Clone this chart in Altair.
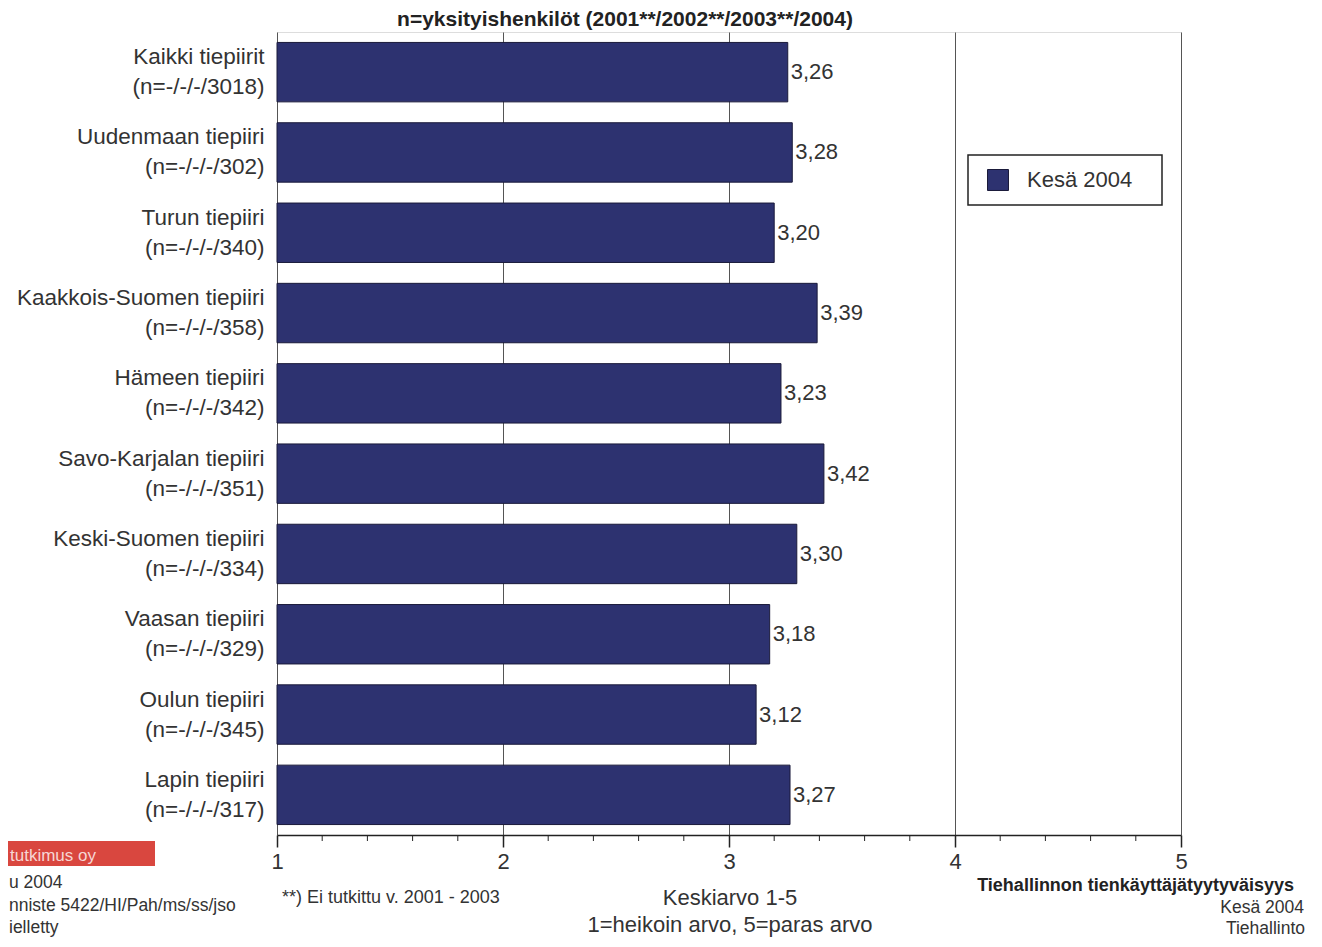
import altair as alt
import pandas as pd

# ---- data ----
regions = ["Kaikki tiepiirit", "Uudenmaan tiepiiri", "Turun tiepiiri",
           "Kaakkois-Suomen tiepiiri", "Hämeen tiepiiri", "Savo-Karjalan tiepiiri",
           "Keski-Suomen tiepiiri", "Vaasan tiepiiri", "Oulun tiepiiri", "Lapin tiepiiri"]
n_labels = ["(n=-/-/-/3018)", "(n=-/-/-/302)", "(n=-/-/-/340)", "(n=-/-/-/358)",
            "(n=-/-/-/342)", "(n=-/-/-/351)", "(n=-/-/-/334)", "(n=-/-/-/329)",
            "(n=-/-/-/345)", "(n=-/-/-/317)"]
values = [3.26, 3.28, 3.20, 3.39, 3.23, 3.42, 3.30, 3.18, 3.12, 3.27]
series_name = "Kesä 2004"
major_ticks = [1, 2, 3, 4, 5]
minor_ticks = [1.2, 1.4, 1.6, 1.8, 2.2, 2.4, 2.6, 2.8, 3.2, 3.4, 3.6, 3.8,
               4.2, 4.4, 4.6, 4.8]

title_text = "n=yksityishenkilöt (2001**/2002**/2003**/2004)"
footnote_text = "**) Ei tutkittu v. 2001 - 2003"
axis_title_1 = "Keskiarvo 1-5"
axis_title_2 = "1=heikoin arvo, 5=paras arvo"
right_texts = ["Kesä 2004", "Tiehallinto"]
right_bold = "Tiehallinnon tienkäyttäjätyytyväisyys"
logo_text = "tutkimus oy"
left_texts = ["u 2004", "nniste 5422/HI/Pah/ms/ss/jso", "ielletty"]

FONT = "Liberation Sans"
NAVY = "#2D3270"
TXT = "#333333"

df = pd.DataFrame({
    "label": [f"{r}|{n}" for r, n in zip(regions, n_labels)],
    "v": values,
    "series": [series_name] * len(values),
})
order = df["label"].tolist()
minor_df = pd.DataFrame({"m": minor_ticks})

base = alt.Chart(df)

xscale = alt.Scale(domain=[1, 5], nice=False, zero=False)

bars = base.mark_bar(stroke="#1a1a3a", strokeWidth=1).encode(
    x=alt.X("v:Q", scale=xscale,
            axis=alt.Axis(values=major_ticks, title=None, format="d",
                          labelFontSize=22, labelColor=TXT, labelFont=FONT,
                          labelPadding=4, labelFlush=False, tickSize=12,
                          tickColor="#222", tickWidth=1.5, domainColor="#222",
                          domainWidth=1.5, grid=True, gridColor="#555",
                          gridWidth=1)),
    x2=alt.datum(1),
    y=alt.Y("label:N", sort=order, title=None,
            scale=alt.Scale(paddingInner=0.26, paddingOuter=0.13),
            axis=alt.Axis(labelExpr="split(datum.label, '|')", labelFontSize=22.5,
                          labelFont=FONT, labelColor=TXT, labelLineHeight=30,
                          labelOffset=-15, labelPadding=13, ticks=False,
                          domain=False, labelLimit=400)),
    color=alt.Color("series:N", scale=alt.Scale(range=[NAVY]),
                    legend=alt.Legend(title=None, orient="none", legendX=691,
                                      legendY=123, padding=14,
                                      symbolType="square", symbolSize=440,
                                      symbolOffset=5,
                                      symbolStrokeColor="#1a1a3a",
                                      symbolStrokeWidth=1, labelOffset=18,
                                      labelFontSize=22, labelFont=FONT,
                                      labelColor=TXT)),
)

value_labels = base.transform_calculate(
    txt="replace(format(datum.v, '.2f'), '.', ',')"
).mark_text(align="left", baseline="middle", dx=3, fontSize=22,
            font=FONT, color=TXT).encode(
    x="v:Q", y=alt.Y("label:N", sort=order), text="txt:N")

minor = alt.Chart(minor_df).mark_rule(color="#222", strokeWidth=1).encode(
    x=alt.X("m:Q", scale=xscale), y=alt.value(803), y2=alt.value(809))

one = pd.DataFrame({"a": [0]})


def txt(text, x, y, size, align="left", weight="normal", color=TXT):
    return alt.Chart(one).mark_text(
        align=align, baseline="alphabetic", fontSize=size, font=FONT,
        fontWeight=weight, color=color).encode(
        x=alt.value(x), y=alt.value(y), text=alt.value(text))


legend_box = alt.Chart(one).mark_rect(
    fill="white", fillOpacity=0, stroke="#222", strokeWidth=1.5).encode(
    x=alt.value(691), x2=alt.value(885), y=alt.value(123), y2=alt.value(173))

logo_box = alt.Chart(one).mark_rect(color="#D9473F").encode(
    x=alt.value(-277), x2=alt.value(-122), y=alt.value(809), y2=alt.value(834))

annotations = [
    legend_box,
    txt(title_text, 348, -6, 21, align="center", weight="bold", color="#222"),
    txt(footnote_text, 5, 871, 18),
    txt(axis_title_1, 453, 873, 22, align="center"),
    txt(axis_title_2, 453, 900, 22, align="center"),
    txt(right_bold, 1017, 859, 18, align="right", weight="bold", color="#222"),
    txt(right_texts[0], 1027, 881, 17.5, align="right"),
    txt(right_texts[1], 1028, 902, 17.5, align="right"),
    logo_box,
    txt(logo_text, -267, 829, 17, color="#F6D6D4"),
    txt(left_texts[0], -268, 856, 17.5),
    txt(left_texts[1], -268, 879, 17.5),
    txt(left_texts[2], -268, 901, 17.5),
]

chart = alt.layer(bars, minor, value_labels, *annotations).properties(
    width=904, height=803,
    autosize=alt.AutoSizeParams(type="none"),
    padding={"left": 269, "top": 24, "right": 133, "bottom": 102},
).configure_view(stroke="#222", strokeWidth=1.5).configure(background="white")

chart.save("out.html", embed_options={"renderer": "svg", "actions": False})
